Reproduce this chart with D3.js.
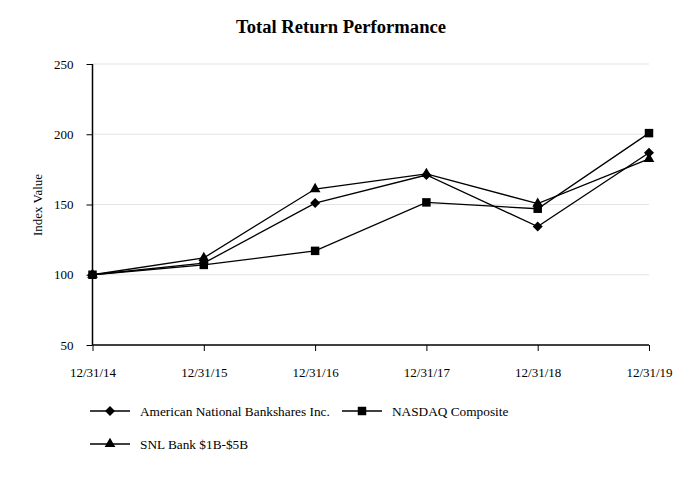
<!DOCTYPE html>
<html><head><meta charset="utf-8">
<script src="https://cdn.jsdelivr.net/npm/d3@7"></script>
<style>body{margin:0;background:#fff}svg{display:block}text{font-family:"Liberation Serif","Times New Roman",serif;fill:#000}</style>
</head><body><svg id="c" width="682" height="480"></svg>
<script>
const categories = ["12/31/14","12/31/15","12/31/16","12/31/17","12/31/18","12/31/19"];
const anb = [100, 108.3, 151.0, 171.0, 134.3, 186.8];
const nasdaq = [100, 107.0, 117.0, 151.5, 147.0, 200.8];
const snl = [100, 112.0, 161.0, 171.8, 150.6, 182.5];
const yTicks = [50, 100, 150, 200, 250];
const seriesNames = ["American National Bankshares Inc.", "NASDAQ Composite", "SNL Bank $1B-$5B"];

const svg = d3.select("#c");
const x = d3.scalePoint().domain(categories).range([92.5, 649]);
const y = d3.scaleLinear().domain([50, 250]).range([345, 64]);

svg.append("text").attr("x", 341).attr("y", 33).attr("text-anchor", "middle")
  .style("font-size", "18.6px").style("font-weight", "bold").text("Total Return Performance");

// gridlines
svg.append("g").selectAll("line").data(yTicks.filter(d => d > 50)).join("line")
  .attr("x1", 92.5).attr("x2", 649).attr("y1", d => y(d)).attr("y2", d => y(d))
  .attr("stroke", "#e3e3e3").attr("stroke-width", 1);

const yAxis = svg.append("g").attr("transform", "translate(92.5,0)")
  .call(d3.axisLeft(y).tickValues(yTicks).tickSize(6).tickPadding(13));
yAxis.selectAll("text").style("font-size", "13px").attr("font-family", null);
yAxis.select(".domain").attr("stroke-width", 1.5).attr("d", `M0,${y(250)}V${y(50)}`);
const xAxis = svg.append("g").attr("transform", "translate(0,345)")
  .call(d3.axisBottom(x).tickSize(6).tickPadding(17));
xAxis.selectAll("text").style("font-size", "13px").attr("font-family", null);
xAxis.select(".domain").attr("stroke-width", 1.5).attr("d", `M92.5,0H649`);

svg.append("text").attr("transform", "translate(42,205) rotate(-90)")
  .attr("text-anchor", "middle").style("font-size", "13px").text("Index Value");

const diamond = {draw(ctx, size) { const r = Math.sqrt(size) / 2 * 1.25; ctx.moveTo(0, -r); ctx.lineTo(r, 0); ctx.lineTo(0, r); ctx.lineTo(-r, 0); ctx.closePath(); }};
const line = d3.line().x((d, i) => x(categories[i])).y(d => y(d));
const data = [
  {vals: anb, sym: diamond, size: 64},
  {vals: nasdaq, sym: d3.symbolSquare, size: 72},
  {vals: snl, sym: d3.symbolTriangle, size: 50}
];
data.forEach(s => {
  svg.append("path").datum(s.vals).attr("d", line).attr("fill", "none")
    .attr("stroke", "#000").attr("stroke-width", 1.3);
});
data.forEach(s => {
  svg.append("g").selectAll("path").data(s.vals).join("path")
    .attr("transform", (d, i) => `translate(${x(categories[i])},${y(d)})`)
    .attr("d", d3.symbol(s.sym, s.size)).attr("fill", "#000");
});

// legend
const legendPos = [[90, 411], [342, 411], [90, 444]];
data.forEach((s, i) => {
  const [lx, ly] = legendPos[i];
  const g = svg.append("g").attr("transform", `translate(${lx},${ly})`);
  g.append("line").attr("x1", 0).attr("x2", 40).attr("stroke", "#000").attr("stroke-width", 1.3);
  g.append("path").attr("transform", "translate(20,0)").attr("d", d3.symbol(s.sym, s.size)).attr("fill", "#000");
  g.append("text").attr("x", 50).attr("y", 4.5).style("font-size", "13.3px").text(seriesNames[i]);
});
</script></body></html>
